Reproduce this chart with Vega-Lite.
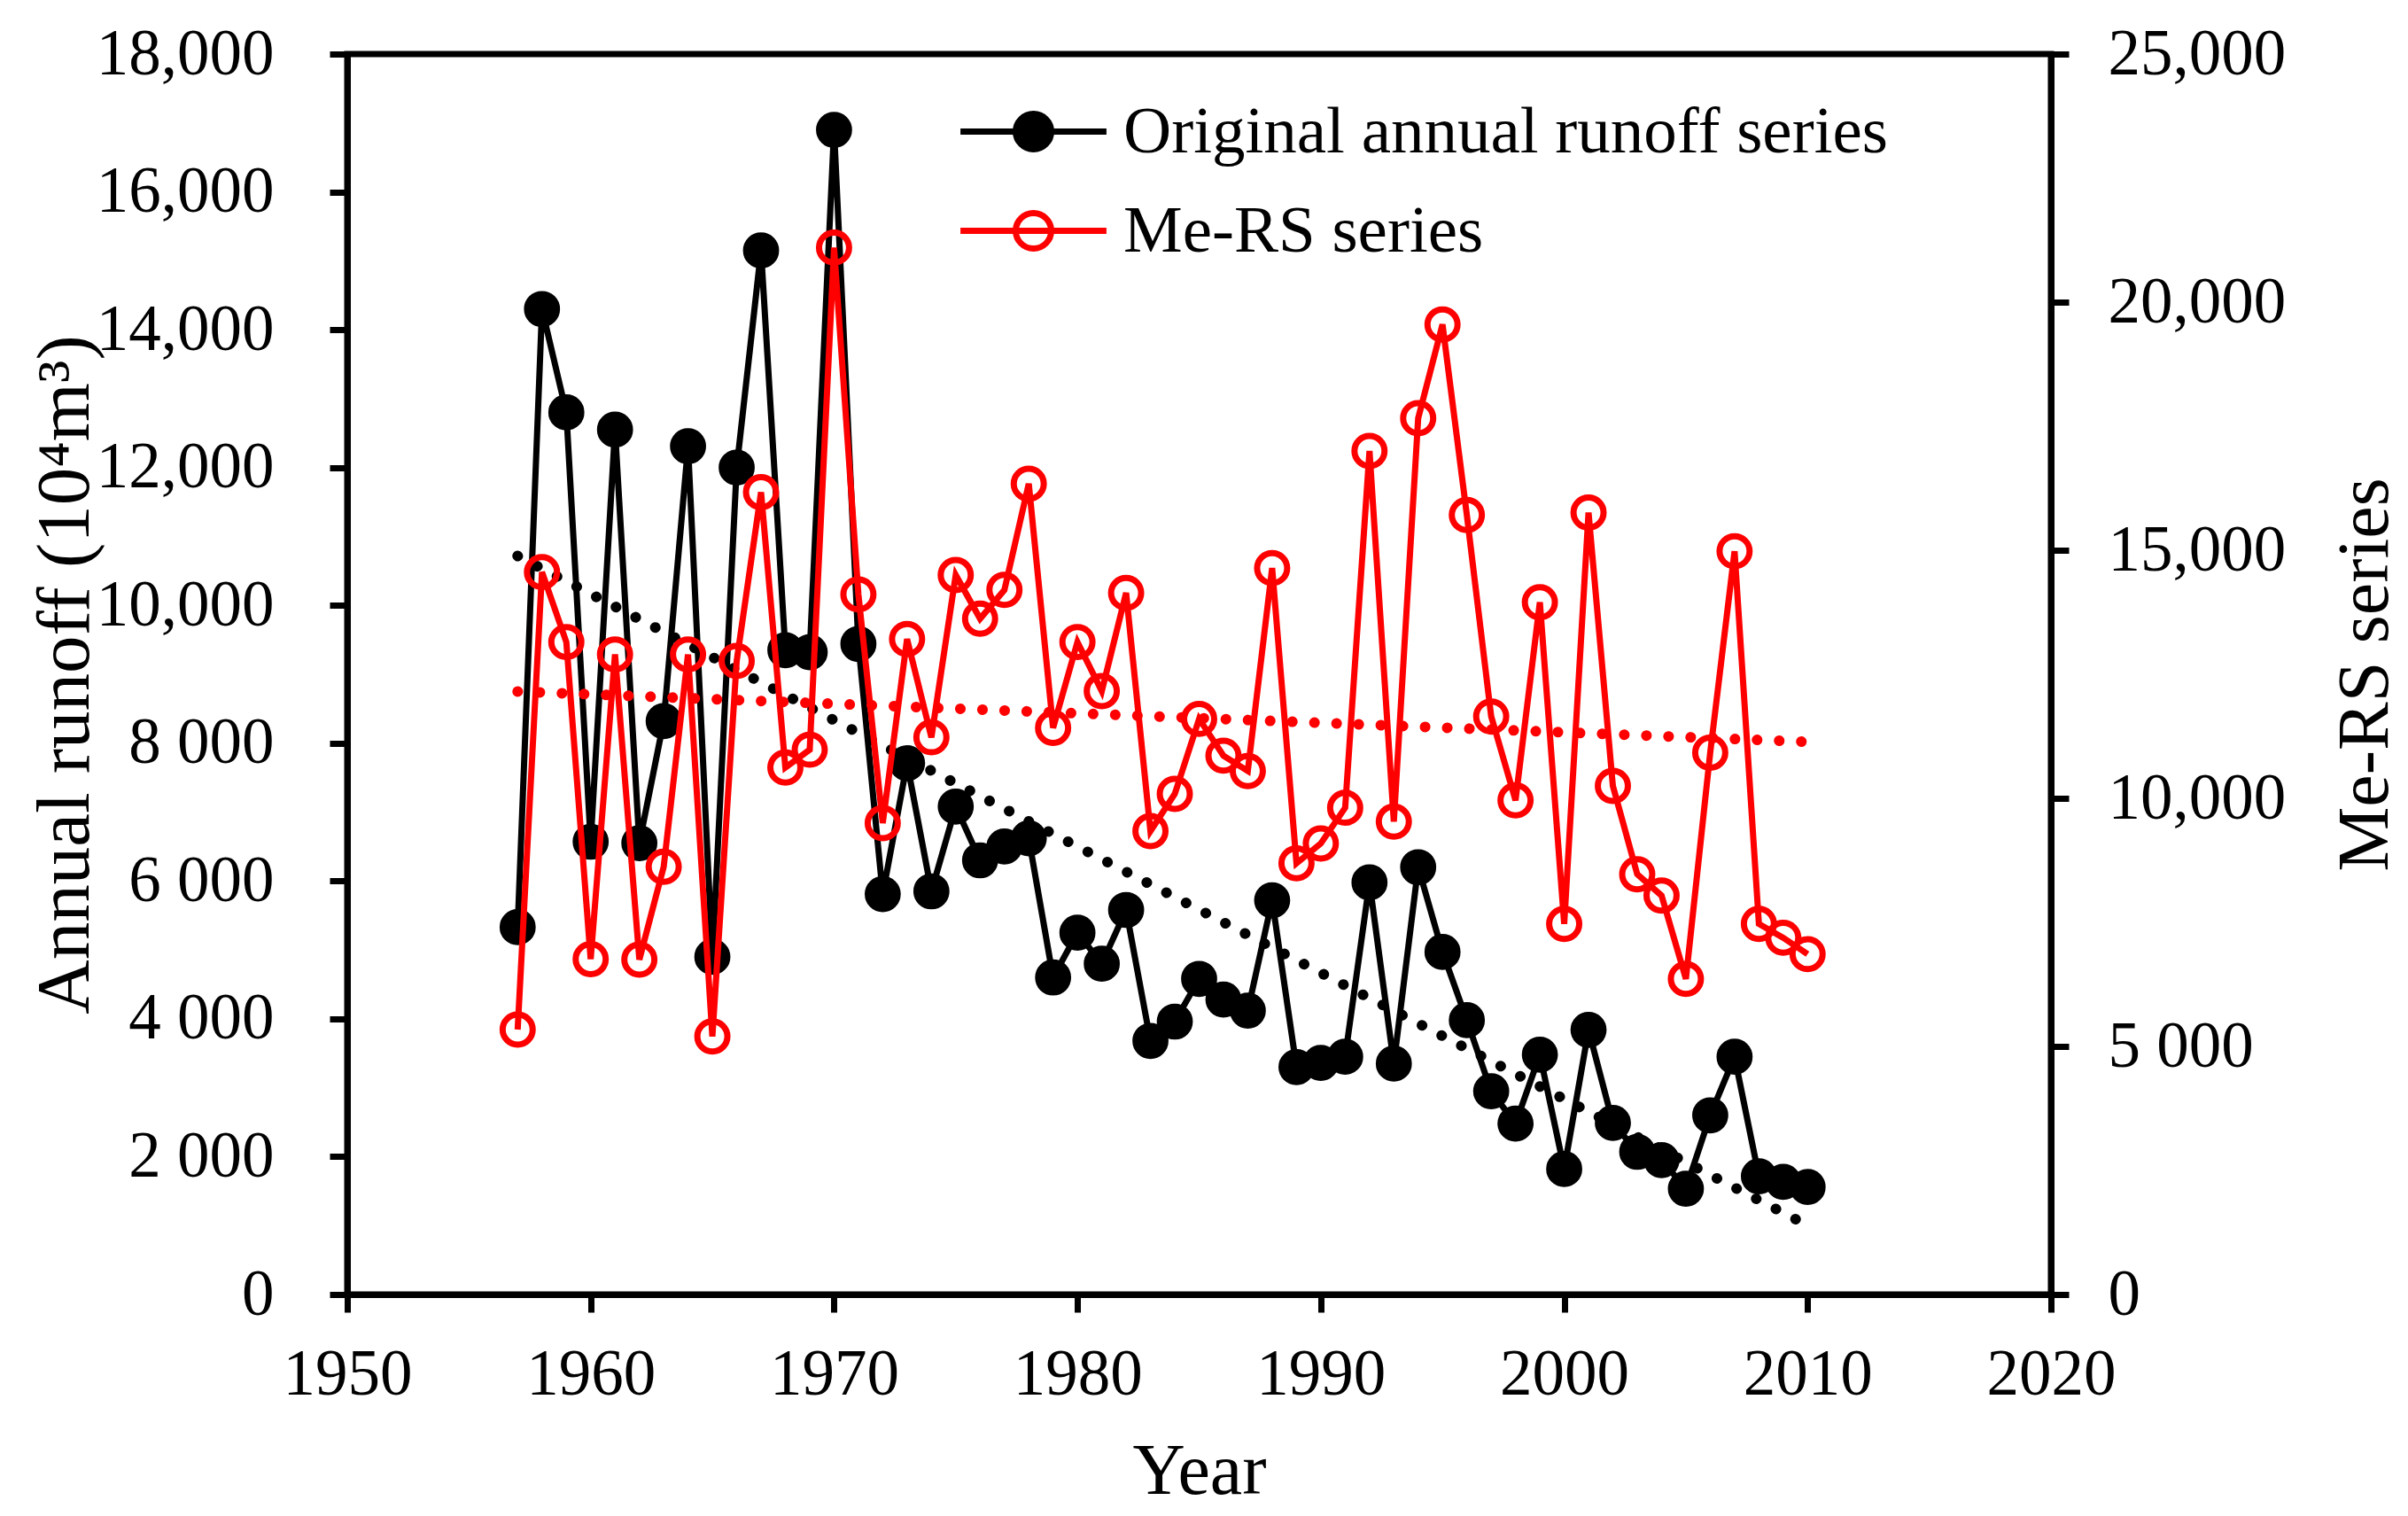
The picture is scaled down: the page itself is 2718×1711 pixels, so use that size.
{
  "$schema": "https://vega.github.io/schema/vega-lite/v6.json",
  "autosize": "none",
  "width": 1923,
  "height": 1400,
  "padding": {"left": 392, "top": 61, "right": 403, "bottom": 250},
  "background": "white",
  "data": {
    "values": [
      {"year": 1957, "series": "Original annual runoff series", "value": 5330},
      {"year": 1958, "series": "Original annual runoff series", "value": 14300},
      {"year": 1959, "series": "Original annual runoff series", "value": 12800},
      {"year": 1960, "series": "Original annual runoff series", "value": 6570},
      {"year": 1961, "series": "Original annual runoff series", "value": 12550},
      {"year": 1962, "series": "Original annual runoff series", "value": 6550},
      {"year": 1963, "series": "Original annual runoff series", "value": 8320},
      {"year": 1964, "series": "Original annual runoff series", "value": 12310},
      {"year": 1965, "series": "Original annual runoff series", "value": 4900},
      {"year": 1966, "series": "Original annual runoff series", "value": 12000},
      {"year": 1967, "series": "Original annual runoff series", "value": 15150},
      {"year": 1968, "series": "Original annual runoff series", "value": 9350},
      {"year": 1969, "series": "Original annual runoff series", "value": 9320},
      {"year": 1970, "series": "Original annual runoff series", "value": 16900},
      {"year": 1971, "series": "Original annual runoff series", "value": 9440},
      {"year": 1972, "series": "Original annual runoff series", "value": 5810},
      {"year": 1973, "series": "Original annual runoff series", "value": 7710},
      {"year": 1974, "series": "Original annual runoff series", "value": 5850},
      {"year": 1975, "series": "Original annual runoff series", "value": 7080},
      {"year": 1976, "series": "Original annual runoff series", "value": 6300},
      {"year": 1977, "series": "Original annual runoff series", "value": 6500},
      {"year": 1978, "series": "Original annual runoff series", "value": 6620},
      {"year": 1979, "series": "Original annual runoff series", "value": 4600},
      {"year": 1980, "series": "Original annual runoff series", "value": 5250},
      {"year": 1981, "series": "Original annual runoff series", "value": 4800},
      {"year": 1982, "series": "Original annual runoff series", "value": 5580},
      {"year": 1983, "series": "Original annual runoff series", "value": 3680},
      {"year": 1984, "series": "Original annual runoff series", "value": 3960},
      {"year": 1985, "series": "Original annual runoff series", "value": 4580},
      {"year": 1986, "series": "Original annual runoff series", "value": 4280},
      {"year": 1987, "series": "Original annual runoff series", "value": 4120},
      {"year": 1988, "series": "Original annual runoff series", "value": 5720},
      {"year": 1989, "series": "Original annual runoff series", "value": 3300},
      {"year": 1990, "series": "Original annual runoff series", "value": 3360},
      {"year": 1991, "series": "Original annual runoff series", "value": 3450},
      {"year": 1992, "series": "Original annual runoff series", "value": 5980},
      {"year": 1993, "series": "Original annual runoff series", "value": 3350},
      {"year": 1994, "series": "Original annual runoff series", "value": 6200},
      {"year": 1995, "series": "Original annual runoff series", "value": 4970},
      {"year": 1996, "series": "Original annual runoff series", "value": 3980},
      {"year": 1997, "series": "Original annual runoff series", "value": 2950},
      {"year": 1998, "series": "Original annual runoff series", "value": 2480},
      {"year": 1999, "series": "Original annual runoff series", "value": 3480},
      {"year": 2000, "series": "Original annual runoff series", "value": 1820},
      {"year": 2001, "series": "Original annual runoff series", "value": 3840},
      {"year": 2002, "series": "Original annual runoff series", "value": 2490},
      {"year": 2003, "series": "Original annual runoff series", "value": 2070},
      {"year": 2004, "series": "Original annual runoff series", "value": 1950},
      {"year": 2005, "series": "Original annual runoff series", "value": 1535},
      {"year": 2006, "series": "Original annual runoff series", "value": 2600},
      {"year": 2007, "series": "Original annual runoff series", "value": 3450},
      {"year": 2008, "series": "Original annual runoff series", "value": 1715},
      {"year": 2009, "series": "Original annual runoff series", "value": 1635},
      {"year": 2010, "series": "Original annual runoff series", "value": 1560},
      {"year": 1957, "series": "Me-RS series", "value": 5340},
      {"year": 1958, "series": "Me-RS series", "value": 14560},
      {"year": 1959, "series": "Me-RS series", "value": 13150},
      {"year": 1960, "series": "Me-RS series", "value": 6760},
      {"year": 1961, "series": "Me-RS series", "value": 12900},
      {"year": 1962, "series": "Me-RS series", "value": 6750},
      {"year": 1963, "series": "Me-RS series", "value": 8620},
      {"year": 1964, "series": "Me-RS series", "value": 12900},
      {"year": 1965, "series": "Me-RS series", "value": 5200},
      {"year": 1966, "series": "Me-RS series", "value": 12770},
      {"year": 1967, "series": "Me-RS series", "value": 16170},
      {"year": 1968, "series": "Me-RS series", "value": 10620},
      {"year": 1969, "series": "Me-RS series", "value": 10980},
      {"year": 1970, "series": "Me-RS series", "value": 21100},
      {"year": 1971, "series": "Me-RS series", "value": 14110},
      {"year": 1972, "series": "Me-RS series", "value": 9500},
      {"year": 1973, "series": "Me-RS series", "value": 13210},
      {"year": 1974, "series": "Me-RS series", "value": 11230},
      {"year": 1975, "series": "Me-RS series", "value": 14500},
      {"year": 1976, "series": "Me-RS series", "value": 13620},
      {"year": 1977, "series": "Me-RS series", "value": 14200},
      {"year": 1978, "series": "Me-RS series", "value": 16340},
      {"year": 1979, "series": "Me-RS series", "value": 11420},
      {"year": 1980, "series": "Me-RS series", "value": 13150},
      {"year": 1981, "series": "Me-RS series", "value": 12160},
      {"year": 1982, "series": "Me-RS series", "value": 14140},
      {"year": 1983, "series": "Me-RS series", "value": 9340},
      {"year": 1984, "series": "Me-RS series", "value": 10090},
      {"year": 1985, "series": "Me-RS series", "value": 11600},
      {"year": 1986, "series": "Me-RS series", "value": 10860},
      {"year": 1987, "series": "Me-RS series", "value": 10550},
      {"year": 1988, "series": "Me-RS series", "value": 14640},
      {"year": 1989, "series": "Me-RS series", "value": 8690},
      {"year": 1990, "series": "Me-RS series", "value": 9090},
      {"year": 1991, "series": "Me-RS series", "value": 9810},
      {"year": 1992, "series": "Me-RS series", "value": 17000},
      {"year": 1993, "series": "Me-RS series", "value": 9530},
      {"year": 1994, "series": "Me-RS series", "value": 17660},
      {"year": 1995, "series": "Me-RS series", "value": 19550},
      {"year": 1996, "series": "Me-RS series", "value": 15710},
      {"year": 1997, "series": "Me-RS series", "value": 11650},
      {"year": 1998, "series": "Me-RS series", "value": 9960},
      {"year": 1999, "series": "Me-RS series", "value": 13950},
      {"year": 2000, "series": "Me-RS series", "value": 7470},
      {"year": 2001, "series": "Me-RS series", "value": 15760},
      {"year": 2002, "series": "Me-RS series", "value": 10250},
      {"year": 2003, "series": "Me-RS series", "value": 8470},
      {"year": 2004, "series": "Me-RS series", "value": 8040},
      {"year": 2005, "series": "Me-RS series", "value": 6360},
      {"year": 2006, "series": "Me-RS series", "value": 10920},
      {"year": 2007, "series": "Me-RS series", "value": 14980},
      {"year": 2008, "series": "Me-RS series", "value": 7470},
      {"year": 2009, "series": "Me-RS series", "value": 7190},
      {"year": 2010, "series": "Me-RS series", "value": 6860}
    ]
  },
  "encoding": {
    "x": {
      "field": "year",
      "type": "quantitative",
      "scale": {"domain": [1950, 2020], "nice": false, "zero": false},
      "axis": {
        "values": [1950, 1960, 1970, 1980, 1990, 2000, 2010, 2020],
        "format": "d",
        "title": "Year",
        "labelBaseline": "alphabetic",
        "labelPadding": 92,
        "titleBaseline": "alphabetic",
        "titleY": 224
      }
    }
  },
  "layer": [
    {
      "transform": [{"filter": "datum.series === 'Original annual runoff series'"}],
      "encoding": {
        "y": {
          "field": "value",
          "type": "quantitative",
          "scale": {"domain": [0, 18000], "nice": false},
          "axis": {
            "orient": "left",
            "values": [0, 2000, 4000, 6000, 8000, 10000, 12000, 14000, 16000, 18000],
            "labelExpr": "datum.value >= 10000 ? format(datum.value, ',') : replace(format(datum.value, ','), ',', ' ')",
            "labelPadding": 63,
            "title": "Annual runoff (10⁴m³)",
            "titleFontSize": 85,
            "titleX": -319,
            "titleY": 700,
            "titleBaseline": "middle",
            "titleAlign": "center"
          }
        }
      },
      "layer": [
        {
          "mark": {"type": "line", "strokeWidth": 7},
          "encoding": {
            "stroke": {
              "field": "series",
              "type": "nominal",
              "scale": {"domain": ["Original annual runoff series"], "range": ["black"]},
              "legend": {
                "title": null,
                "orient": "none",
                "legendX": 731,
                "legendY": 44,
                "symbolType": "M -2.06 0 L 2.06 0 M 0.5 0 A 0.5 0.5 0 1 1 -0.5 0 A 0.5 0.5 0 1 1 0.5 0 Z",
                "symbolSize": 6400,
                "symbolStrokeWidth": 7,
                "labelOffset": 58,
                "encode": {
                  "symbols": {"update": {"fill": {"value": "black"}, "strokeWidth": {"value": 7}}}
                }
              }
            }
          }
        },
        {
          "mark": {"type": "point", "shape": "circle", "fill": "black", "stroke": "black", "strokeWidth": 4, "size": 1350, "opacity": 1}
        },
        {
          "transform": [{"regression": "value", "on": "year"}],
          "mark": {"type": "line", "stroke": "black", "strokeWidth": 12, "strokeDash": [0.1, 24.9], "strokeCap": "round"}
        }
      ]
    },
    {
      "transform": [{"filter": "datum.series === 'Me-RS series'"}],
      "encoding": {
        "y": {
          "field": "value",
          "type": "quantitative",
          "scale": {"domain": [0, 25000], "nice": false},
          "axis": {
            "orient": "right",
            "values": [0, 5000, 10000, 15000, 20000, 25000],
            "labelExpr": "datum.value >= 10000 ? format(datum.value, ',') : replace(format(datum.value, ','), ',', ' ')",
            "labelPadding": 44,
            "title": "Me-RS series",
            "titleAngle": 270,
            "titleX": 354,
            "titleY": 700,
            "titleBaseline": "middle",
            "titleAlign": "center"
          }
        }
      },
      "layer": [
        {
          "mark": {"type": "line", "strokeWidth": 7},
          "encoding": {
            "stroke": {
              "field": "series",
              "type": "nominal",
              "scale": {"domain": ["Me-RS series"], "range": ["red"]},
              "legend": {
                "title": null,
                "orient": "none",
                "legendX": 731,
                "legendY": 156,
                "symbolType": "M -2.06 0 L 2.06 0 M 0.5 0 A 0.5 0.5 0 1 1 -0.5 0 A 0.5 0.5 0 1 1 0.5 0 Z",
                "symbolSize": 6400,
                "symbolStrokeWidth": 7,
                "labelOffset": 58,
                "encode": {
                  "symbols": {"update": {"fill": {"value": "transparent"}, "strokeWidth": {"value": 7}}}
                }
              }
            }
          }
        },
        {
          "mark": {"type": "point", "shape": "circle", "fill": "transparent", "stroke": "red", "strokeWidth": 7, "size": 1150, "opacity": 1}
        },
        {
          "transform": [{"regression": "value", "on": "year"}],
          "mark": {"type": "line", "stroke": "red", "strokeWidth": 12, "strokeDash": [0.1, 24.9], "strokeCap": "round"}
        }
      ]
    }
  ],
  "resolve": {"scale": {"y": "independent", "stroke": "independent"}},
  "config": {
    "view": {"stroke": "black", "strokeWidth": 7},
    "axis": {
      "grid": false,
      "domainColor": "black",
      "domainWidth": 7,
      "tickColor": "black",
      "tickWidth": 7,
      "tickSize": 20,
      "labelFont": "Liberation Serif",
      "labelFontSize": 73,
      "labelColor": "black",
      "labelFlush": false,
      "labelOverlap": false,
      "labelLimit": 0,
      "titleFont": "Liberation Serif",
      "titleFontSize": 82,
      "titleFontWeight": "normal",
      "titleColor": "black"
    },
    "legend": {
      "padding": 0,
      "labelFont": "Liberation Serif",
      "labelFontSize": 75,
      "labelColor": "black",
      "labelLimit": 0
    }
  }
}
